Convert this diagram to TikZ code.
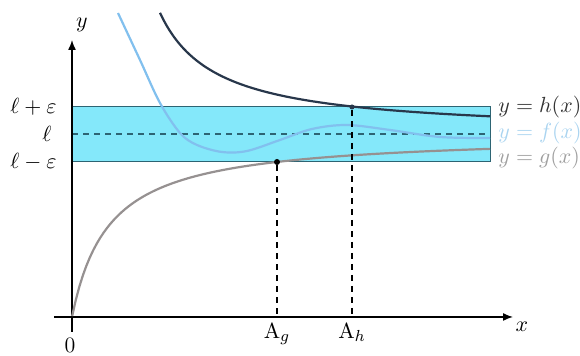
\documentclass[tikz,border=0pt]{standalone}
\usepackage{amsmath,amssymb}
\usepackage{xcolor}
\usepackage{tikz}
\usetikzlibrary{arrows.meta,calc}
\definecolor{band}{RGB}{132,232,250}
\definecolor{bandrule}{RGB}{45,100,115}
\definecolor{hcol}{RGB}{40,55,75}
\definecolor{fcol}{RGB}{130,192,238}
\definecolor{gcol}{RGB}{150,145,145}
\definecolor{flbl}{RGB}{170,212,240}
\definecolor{glbl}{RGB}{160,160,160}

\begin{document}
\begin{tikzpicture}[
  x=0.5pt,y=0.5pt,
  font=\fontsize{11}{13}\selectfont,
  ax/.style={-{Latex[length=5pt,width=4pt]},line width=0.7pt},
  curve/.style={line width=1.1pt},
  guide/.style={line width=0.7pt,dash pattern=on 3pt off 2.5pt},
  lbl/.style={inner sep=1pt},
  dot/.style={circle,fill=black,inner sep=0pt,minimum size=3pt},
]
\useasboundingbox (-72,-39) rectangle (508,317);
\clip (-72,-39) rectangle (508,317);

% band l +- eps
\filldraw[fill=band,draw=bandrule,line width=0.5pt] (0,155) rectangle (418,210);
\coordinate (L0) at (0,183);
\coordinate (L1) at (418,183);
\draw[guide,bandrule] (L0) -- (L1);

% axes
\coordinate (O) at (0,0);
\coordinate (xs) at (-18,0);
\coordinate (xe) at (441,0);
\coordinate (ys) at (0,-15);
\coordinate (ye) at (0,277);
\draw[ax] (xs) -- (xe);
\draw[ax] (ys) -- (ye);
\node[lbl] (xl) at (450,-10) {$x$};
\node[lbl] (yl) at (10,292) {$y$};
\node[lbl] (zero) at (-2,-28) {0};

% curves
\draw[curve,gcol] plot[domain=0.2:418,samples=120] (\x,{183/(1+37/\x)});
\draw[curve,fcol] plot[smooth,tension=0.55] coordinates {
  (46,304) (68,257) (88,214) (108,184) (125,172) (150,165) (175,166)
  (208,177) (240,188) (275,192) (318,187) (368,180) (418,179)};
\draw[curve,hcol] plot[domain=88:418,samples=100] (\x,{183+6831/(\x-31.6)});

% tick labels
\node[lbl,anchor=east] (lp) at (-13,210) {$\ell+\varepsilon$};
\node[lbl,anchor=east] (l)  at (-18,183) {$\ell$};
\node[lbl,anchor=east] (lm) at (-13,155) {$\ell-\varepsilon$};

% curve labels
\node[lbl,anchor=west,black!80] (hl) at (424,210) {$y=h(x)$};
\node[lbl,anchor=west,flbl] (fl) at (424,184) {$y=f(x)$};
\node[lbl,anchor=west,glbl] (gl) at (424,159) {$y=g(x)$};

% thresholds
\node[dot] (Pg) at (205,155) {};
\node[dot,minimum size=2.5pt,fill=hcol] (Ph) at (280,210) {};
\coordinate (Ag) at (205,0);
\coordinate (Ah) at (280,0);
\draw[guide] (Pg) -- (Ag);
\draw[guide] (Ph) -- (Ah);
\node[lbl,anchor=north] (agl) at (205,-4) {$\mathrm{A}_g$};
\node[lbl,anchor=north] (ahl) at (280,-4) {$\mathrm{A}_h$};
\end{tikzpicture}
\end{document}
